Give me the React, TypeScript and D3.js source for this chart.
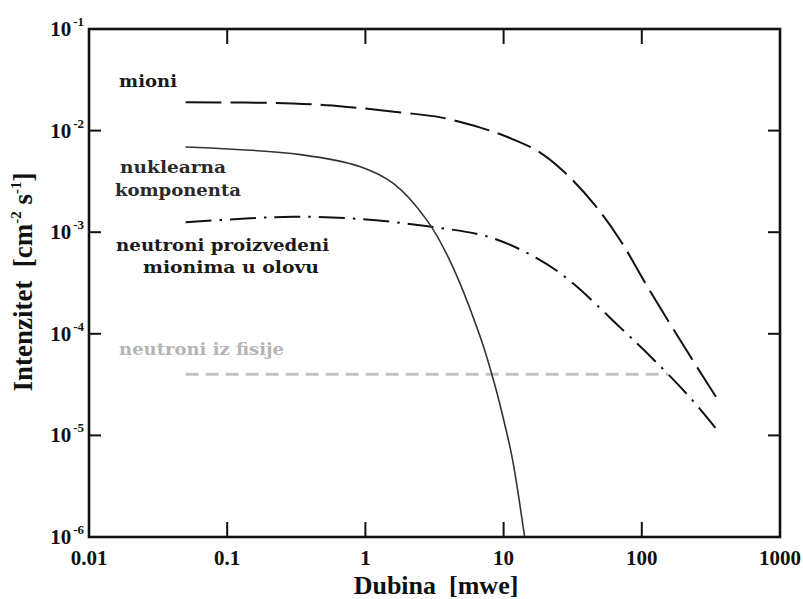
import React from "react";
import * as d3 from "d3";

// Depth in metres of water equivalent (mwe), intensity in cm^-2 s^-1
const muonDepth = [0.05, 0.3, 0.74, 1.8, 3.5, 6.8, 11, 17.6, 27, 45, 70, 110, 226, 344];
const muonFlux = [0.019, 0.0185, 0.0171, 0.0151, 0.0135, 0.0107, 0.0085, 0.0063, 0.004, 0.0019, 0.00083, 0.00029, 5.9e-5, 2.4e-5];

const nuclearDepth = [0.05, 0.34, 0.92, 1.6, 2.8, 4.1, 6.8, 8.75, 10.3, 11.6, 14.2];
const nuclearFlux = [6.9e-3, 5.8e-3, 4.4e-3, 3.0e-3, 1.3e-3, 5.2e-4, 9.2e-5, 2.95e-5, 1.21e-5, 5.8e-6, 1e-6];

const muNeutronDepth = [0.05, 0.12, 0.3, 0.9, 3, 8, 17.6, 30, 70, 123, 215, 344];
const muNeutronFlux = [1.25e-3, 1.35e-3, 1.42e-3, 1.35e-3, 1.13e-3, 8.9e-4, 5.5e-4, 3.35e-4, 1.15e-4, 5.5e-5, 2.5e-5, 1.17e-5];

const fissionDepth = [0.05, 155];
const fissionFlux = [4e-5, 4e-5];

const xTicks = [0.01, 0.1, 1, 10, 100, 1000];
const xTickLabels = ["0.01", "0.1", "1", "10", "100", "1000"];
const yExponents = [-1, -2, -3, -4, -5, -6];

// Curve annotations, anchored at (depth, intensity) of the text start
const labelText = ["mioni", "nuklearna", "komponenta", "neutroni proizvedeni", "mionima u olovu", "neutroni iz fisije"];
const labelDepth = [0.0165, 0.0168, 0.0154, 0.0157, 0.0246, 0.0165];
const labelFlux = [0.0269, 3.85e-3, 2.29e-3, 6.59e-4, 4.01e-4, 6.14e-5];

const W = 803;
const H = 599;
const left = 89;
const right = 780;
const top = 29;
const bottom = 537;

export default function App() {
  const x = d3.scaleLog().domain([0.01, 1000]).range([left, right]);
  const y = d3.scaleLog().domain([1e-6, 1e-1]).range([bottom, top]);

  const line = d3
    .line<[number, number]>()
    .x((d) => x(d[0]))
    .y((d) => y(d[1]))
    .curve(d3.curveCatmullRom.alpha(0.5));

  const pts = (xs: number[], ys: number[]) => xs.map((v, i) => [v, ys[i]] as [number, number]);

  const serif = "'Liberation Serif', 'Times New Roman', serif";
  const labelFont = "'DejaVu Serif', serif";
  const labelWidths = [58, 106, 126, 213, 176, 165];
  const labelColors = ["#1a1a1a", "#2a2a2a", "#2a2a2a", "#1a1a1a", "#1a1a1a", "#b4b4b4"];

  return (
    <svg
      width={W}
      height={H}
      style={{ position: "absolute", left: 0, top: 0, background: "#fff" }}
      fontFamily={serif}
      fontWeight="bold"
    >
      {/* fission neutron level */}
      <path
        d={line(pts(fissionDepth, fissionFlux)) || ""}
        fill="none"
        stroke="#c2c2c2"
        strokeWidth={3}
        strokeDasharray="13 7"
      />
      {/* muons */}
      <path
        d={line(pts(muonDepth, muonFlux)) || ""}
        fill="none"
        stroke="#111"
        strokeWidth={2}
        strokeDasharray="36 9"
      />
      {/* neutrons produced by muons in lead */}
      <path
        d={line(pts(muNeutronDepth, muNeutronFlux)) || ""}
        fill="none"
        stroke="#111"
        strokeWidth={2}
        strokeDasharray="26 8 2.5 8"
      />
      {/* nuclear component */}
      <path
        d={line(pts(nuclearDepth, nuclearFlux)) || ""}
        fill="none"
        stroke="#333"
        strokeWidth={1.6}
      />

      {/* frame */}
      <rect
        x={left}
        y={top}
        width={right - left}
        height={bottom - top}
        fill="none"
        stroke="#111"
        strokeWidth={2.6}
      />

      {/* inward ticks */}
      {xTicks.slice(1, -1).map((t) => (
        <g key={"xt" + t} stroke="#111" strokeWidth={2}>
          <line x1={x(t)} x2={x(t)} y1={bottom} y2={bottom - 15} />
          <line x1={x(t)} x2={x(t)} y1={top} y2={top + 15} />
        </g>
      ))}
      {yExponents.slice(1, -1).map((e) => (
        <g key={"yt" + e} stroke="#111" strokeWidth={2}>
          <line x1={left} x2={left + 12} y1={y(Math.pow(10, e))} y2={y(Math.pow(10, e))} />
          <line x1={right} x2={right - 12} y1={y(Math.pow(10, e))} y2={y(Math.pow(10, e))} />
        </g>
      ))}

      {/* x tick labels */}
      {xTicks.map((t, i) => (
        <text key={"xl" + t} x={x(t)} y={565} fontSize={21} textAnchor="middle" fill="#111">
          {xTickLabels[i]}
        </text>
      ))}

      {/* y tick labels */}
      {yExponents.map((e) => (
        <text key={"yl" + e} x={84} y={y(Math.pow(10, e)) + 7} fontSize={21} textAnchor="end" fill="#111">
          10
          <tspan fontSize={13} dy={-10} dx={2}>
            {"-" + Math.abs(e)}
          </tspan>
        </text>
      ))}

      {/* axis titles */}
      <text x={436} y={594} fontSize={26} textAnchor="middle" fill="#111" xmlSpace="preserve">
        {"Dubina  [mwe]"}
      </text>
      <text transform="translate(32,282) rotate(-90)" fontSize={27} textAnchor="middle" fill="#111" xmlSpace="preserve">
        {"Intenzitet  [cm"}
        <tspan fontSize={15} dy={-11}>-2</tspan>
        <tspan dy={11}>{" s"}</tspan>
        <tspan fontSize={15} dy={-11}>-1</tspan>
        <tspan dy={11}>]</tspan>
      </text>

      {/* curve annotations */}
      {labelText.map((s, i) => (
        <text
          key={s}
          x={x(labelDepth[i])}
          y={y(labelFlux[i])}
          fontFamily={labelFont}
          fontSize={17.5}
          fill={labelColors[i]}
          textLength={labelWidths[i]}
          lengthAdjust="spacingAndGlyphs"
          xmlSpace="preserve"
        >
          {s}
        </text>
      ))}
    </svg>
  );
}
